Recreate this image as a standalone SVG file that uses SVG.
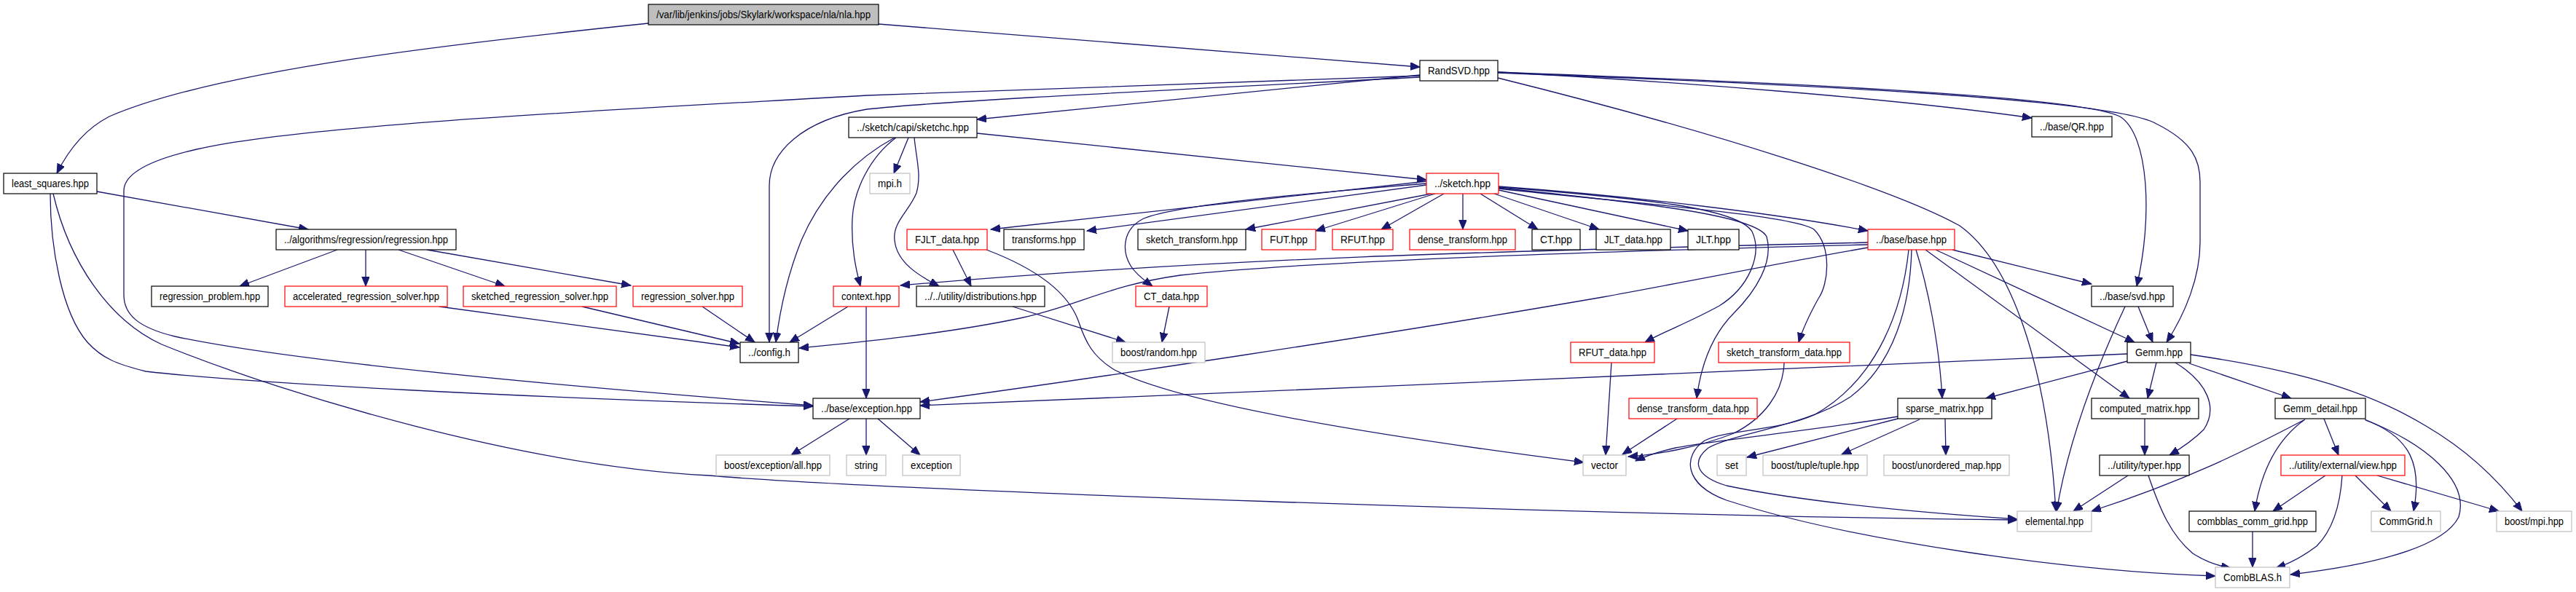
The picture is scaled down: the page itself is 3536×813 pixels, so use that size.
<svg xmlns="http://www.w3.org/2000/svg" width="3536" height="813" viewBox="0 0 3536 813">
<style>
rect{fill:#fff;stroke-width:1.2}
.b{stroke:#000}.r{stroke:#ff0000}.g{stroke:#bfbfbf}.t{fill:#bfbfbf;stroke:#000}
text{font-family:"Liberation Sans",Arial,sans-serif;font-size:14px;text-anchor:middle;fill:#000}
#edges path{fill:none;stroke:#191970;stroke-width:1.3;marker-end:url(#ah)}
</style>
<defs>
<marker id="ah" markerUnits="userSpaceOnUse" markerWidth="14" markerHeight="12" refX="13" refY="5.3" orient="auto"><path d="M0,0 L13,5.3 L0,10.6 Z" fill="#191970" stroke="#191970" stroke-width="1"/></marker>
</defs>
<rect x="0" y="0" width="3536" height="813" style="fill:#fff;stroke:none"/>
<g id="edges">
<path d="M890,32 C640,58 300,95 150,160 C115,178 92,210 78,238"/>
<path d="M1206,33 L1949,92"/>
<path d="M1949,103 L1341,164"/>
<path d="M1949,106 C1600,124 1300,138 1190,150 C1100,165 1056,210 1056,255 L1056,470"/>
<path d="M1949,104 L1190,131 C900,148 420,170 270,205 C195,222 170,242 170,262 L170,405 C170,432 190,450 240,462 C380,492 700,525 1116,557"/>
<path d="M133,263 L423,315"/>
<path d="M69,266 C69,340 85,430 120,470 C140,492 160,500 200,510 C350,527 700,545 1116,558"/>
<path d="M73,266 C95,360 150,440 222,473 C400,545 720,640 973,653 C1200,673 2200,708 2769,714"/>
<path d="M463,343 L329,393"/>
<path d="M502,343 L502,393"/>
<path d="M547,343 L693,393"/>
<path d="M586,343 L866,392"/>
<path d="M603,421 L1015,477"/>
<path d="M799,421 L1015,472"/>
<path d="M964,421 L1036,470"/>
<path d="M1164,421 L1084,470"/>
<path d="M1228,189 C1180,215 1130,260 1100,330 C1080,380 1070,430 1065,470"/>
<path d="M1230,189 C1195,215 1172,260 1170,300 C1168,340 1175,370 1181,393"/>
<path d="M1247,189 L1227,238"/>
<path d="M1255,189 C1258,220 1265,240 1258,265 C1248,290 1225,305 1228,330 C1231,360 1260,378 1289,393"/>
<path d="M1341,183 L1958,247"/>
<path d="M1189,421 L1189,547"/>
<path d="M1390,421 L1545,470"/>
<path d="M1605,421 L1595,470"/>
<path d="M1308,343 L1333,393"/>
<path d="M1354,343 C1420,368 1465,400 1480,440 C1490,470 1500,490 1530,508 C1620,555 1900,600 2174,635"/>
<path d="M1958,252 C1800,265 1620,280 1570,300 C1540,315 1540,345 1552,365 C1560,378 1575,388 1582,393"/>
<path d="M1958,249 L1360,315"/>
<path d="M1958,254 L1492,317"/>
<path d="M1965,266 L1710,315"/>
<path d="M1970,266 L1806,317"/>
<path d="M1982,266 L1896,315"/>
<path d="M2008,266 L2008,315"/>
<path d="M2032,266 L2111,315"/>
<path d="M2051,266 L2195,315"/>
<path d="M2057,261 L2317,317"/>
<path d="M2057,256 C2250,270 2450,295 2564,317"/>
<path d="M2057,257 C2250,272 2385,285 2405,318 C2420,350 2400,395 2360,420 C2320,442 2285,455 2258,470"/>
<path d="M2057,258 C2250,278 2410,295 2425,325 C2435,360 2410,400 2380,430 C2350,460 2335,500 2329,547"/>
<path d="M2057,259 C2250,280 2460,295 2490,315 C2515,340 2510,390 2496,410 C2485,430 2475,450 2469,470"/>
<path d="M2564,333 C2100,344 1700,352 1236,392"/>
<path d="M2564,336 C2200,345 1800,358 1620,378 C1520,392 1480,420 1400,437 C1300,458 1180,470 1097,478"/>
<path d="M2564,340 C2450,360 2300,390 2200,408 C1900,460 1500,520 1263,552"/>
<path d="M2920,486 C2500,505 1800,535 1263,557"/>
<path d="M2680,343 L2871,390"/>
<path d="M2657,343 L2930,470"/>
<path d="M2643,343 L2923,547"/>
<path d="M2630,343 C2645,390 2662,470 2666,547"/>
<path d="M2624,343 C2622,420 2600,500 2540,545 C2480,585 2380,595 2345,615 C2320,635 2330,655 2370,667 C2480,690 2650,705 2769,713"/>
<path d="M2620,343 C2612,420 2580,520 2490,570 C2440,592 2370,590 2340,605 C2310,625 2310,665 2370,687 C2550,745 2850,785 3041,791"/>
<path d="M2605,572 C2500,590 2350,605 2300,615 C2270,622 2255,628 2245,633"/>
<path d="M2449,498 C2448,540 2420,575 2380,595 C2330,615 2270,625 2235,627"/>
<path d="M2302,575 L2227,624"/>
<path d="M2212,498 L2204,625"/>
<path d="M2605,575 L2398,628"/>
<path d="M2635,576 L2528,624"/>
<path d="M2670,575 L2671,625"/>
<path d="M2935,421 L2955,470"/>
<path d="M2917,421 C2880,500 2840,600 2823,702"/>
<path d="M2056,107 C2350,180 2600,260 2690,310 C2760,360 2810,500 2822,702"/>
<path d="M2056,99 C2300,112 2600,135 2789,162"/>
<path d="M2056,99 C2400,112 2850,130 2910,160 C2950,185 2955,300 2933,393"/>
<path d="M2056,100 C2450,115 2900,135 2960,170 C3010,195 3020,220 3020,250 L3020,333 C3020,380 3000,430 2974,470"/>
<path d="M2920,496 L2726,547"/>
<path d="M2960,498 L2948,547"/>
<path d="M2986,498 C3030,525 3045,560 3025,590 C3010,605 2995,615 2978,625"/>
<path d="M3005,499 L3145,547"/>
<path d="M3007,487 C3130,505 3240,530 3330,585 C3390,620 3430,660 3462,702"/>
<path d="M2944,575 L2944,625"/>
<path d="M2921,653 L2846,702"/>
<path d="M2949,653 C2965,700 2980,735 3010,760 C3030,773 3050,778 3062,780"/>
<path d="M3190,575 L3210,625"/>
<path d="M3164,576 C3130,600 3105,640 3095,702"/>
<path d="M3162,577 C3080,620 3000,660 2871,702"/>
<path d="M3247,577 C3310,600 3325,640 3313,702"/>
<path d="M3246,576 C3330,610 3390,660 3375,710 C3350,760 3220,780 3144,789"/>
<path d="M3192,653 L3120,702"/>
<path d="M3215,653 C3212,700 3200,730 3180,750 C3160,765 3140,775 3124,780"/>
<path d="M3233,653 L3282,702"/>
<path d="M3263,653 L3430,702"/>
<path d="M3092,730 L3092,779"/>
<path d="M1166,575 L1086,625"/>
<path d="M1189,575 L1189,625"/>
<path d="M1205,575 L1263,625"/>
</g>
<g id="n0"><rect class="t" x="890" y="6" width="316" height="28"/><text x="1048" y="25" textLength="294" lengthAdjust="spacingAndGlyphs">/var/lib/jenkins/jobs/Skylark/workspace/nla/nla.hpp</text></g>
<g id="n1"><rect class="b" x="5" y="238" width="128" height="28"/><text x="69" y="257" textLength="106" lengthAdjust="spacingAndGlyphs">least_squares.hpp</text></g>
<g id="n2"><rect class="b" x="379" y="315" width="247" height="28"/><text x="502.5" y="334" textLength="225" lengthAdjust="spacingAndGlyphs">../algorithms/regression/regression.hpp</text></g>
<g id="n3"><rect class="b" x="208" y="393" width="160" height="28"/><text x="288" y="412" textLength="138" lengthAdjust="spacingAndGlyphs">regression_problem.hpp</text></g>
<g id="n4"><rect class="r" x="391" y="393" width="223" height="28"/><text x="502.5" y="412" textLength="201" lengthAdjust="spacingAndGlyphs">accelerated_regression_solver.hpp</text></g>
<g id="n5"><rect class="r" x="636" y="393" width="210" height="28"/><text x="741" y="412" textLength="188" lengthAdjust="spacingAndGlyphs">sketched_regression_solver.hpp</text></g>
<g id="n6"><rect class="r" x="869" y="393" width="150" height="28"/><text x="944" y="412" textLength="128" lengthAdjust="spacingAndGlyphs">regression_solver.hpp</text></g>
<g id="n7"><rect class="b" x="1016" y="470" width="80" height="28"/><text x="1056" y="489" textLength="58" lengthAdjust="spacingAndGlyphs">../config.h</text></g>
<g id="n8"><rect class="b" x="1116" y="547" width="147" height="28"/><text x="1189.5" y="566" textLength="125" lengthAdjust="spacingAndGlyphs">../base/exception.hpp</text></g>
<g id="n9"><rect class="g" x="983" y="625" width="156" height="28"/><text x="1061" y="644" textLength="134" lengthAdjust="spacingAndGlyphs">boost/exception/all.hpp</text></g>
<g id="n10"><rect class="g" x="1162" y="625" width="54" height="28"/><text x="1189" y="644" textLength="32" lengthAdjust="spacingAndGlyphs">string</text></g>
<g id="n11"><rect class="g" x="1239" y="625" width="79" height="28"/><text x="1278.5" y="644" textLength="57" lengthAdjust="spacingAndGlyphs">exception</text></g>
<g id="n12"><rect class="b" x="1949" y="83" width="107" height="28"/><text x="2002.5" y="102" textLength="85" lengthAdjust="spacingAndGlyphs">RandSVD.hpp</text></g>
<g id="n13"><rect class="b" x="1165" y="161" width="176" height="28"/><text x="1253" y="180" textLength="154" lengthAdjust="spacingAndGlyphs">../sketch/capi/sketchc.hpp</text></g>
<g id="n14"><rect class="g" x="1194" y="238" width="55" height="28"/><text x="1221.5" y="257" textLength="33" lengthAdjust="spacingAndGlyphs">mpi.h</text></g>
<g id="n15"><rect class="r" x="1144" y="393" width="90" height="28"/><text x="1189" y="412" textLength="68" lengthAdjust="spacingAndGlyphs">context.hpp</text></g>
<g id="n16"><rect class="b" x="1258" y="393" width="176" height="28"/><text x="1346" y="412" textLength="154" lengthAdjust="spacingAndGlyphs">../../utility/distributions.hpp</text></g>
<g id="n17"><rect class="r" x="1958" y="238" width="99" height="28"/><text x="2007.5" y="257" textLength="77" lengthAdjust="spacingAndGlyphs">../sketch.hpp</text></g>
<g id="n18"><rect class="r" x="1245" y="315" width="110" height="28"/><text x="1300" y="334" textLength="88" lengthAdjust="spacingAndGlyphs">FJLT_data.hpp</text></g>
<g id="n19"><rect class="b" x="1378" y="315" width="110" height="28"/><text x="1433" y="334" textLength="88" lengthAdjust="spacingAndGlyphs">transforms.hpp</text></g>
<g id="n20"><rect class="b" x="1562" y="315" width="148" height="28"/><text x="1636" y="334" textLength="126" lengthAdjust="spacingAndGlyphs">sketch_transform.hpp</text></g>
<g id="n21"><rect class="r" x="1732" y="315" width="74" height="28"/><text x="1769" y="334" textLength="52" lengthAdjust="spacingAndGlyphs">FUT.hpp</text></g>
<g id="n22"><rect class="r" x="1829" y="315" width="83" height="28"/><text x="1870.5" y="334" textLength="61" lengthAdjust="spacingAndGlyphs">RFUT.hpp</text></g>
<g id="n23"><rect class="r" x="1935" y="315" width="145" height="28"/><text x="2007.5" y="334" textLength="123" lengthAdjust="spacingAndGlyphs">dense_transform.hpp</text></g>
<g id="n24"><rect class="b" x="2103" y="315" width="66" height="28"/><text x="2136" y="334" textLength="44" lengthAdjust="spacingAndGlyphs">CT.hpp</text></g>
<g id="n25"><rect class="b" x="2191" y="315" width="102" height="28"/><text x="2242" y="334" textLength="80" lengthAdjust="spacingAndGlyphs">JLT_data.hpp</text></g>
<g id="n26"><rect class="b" x="2317" y="315" width="70" height="28"/><text x="2352" y="334" textLength="48" lengthAdjust="spacingAndGlyphs">JLT.hpp</text></g>
<g id="n27"><rect class="r" x="1559" y="393" width="98" height="28"/><text x="1608" y="412" textLength="76" lengthAdjust="spacingAndGlyphs">CT_data.hpp</text></g>
<g id="n28"><rect class="g" x="1527" y="470" width="127" height="28"/><text x="1590.5" y="489" textLength="105" lengthAdjust="spacingAndGlyphs">boost/random.hpp</text></g>
<g id="n29"><rect class="b" x="2789" y="160" width="110" height="28"/><text x="2844" y="179" textLength="88" lengthAdjust="spacingAndGlyphs">../base/QR.hpp</text></g>
<g id="n30"><rect class="r" x="2564" y="315" width="119" height="28"/><text x="2623.5" y="334" textLength="97" lengthAdjust="spacingAndGlyphs">../base/base.hpp</text></g>
<g id="n31"><rect class="b" x="2871" y="393" width="112" height="28"/><text x="2927" y="412" textLength="90" lengthAdjust="spacingAndGlyphs">../base/svd.hpp</text></g>
<g id="n32"><rect class="r" x="2156" y="470" width="115" height="28"/><text x="2213.5" y="489" textLength="93" lengthAdjust="spacingAndGlyphs">RFUT_data.hpp</text></g>
<g id="n33"><rect class="r" x="2359" y="470" width="180" height="28"/><text x="2449" y="489" textLength="158" lengthAdjust="spacingAndGlyphs">sketch_transform_data.hpp</text></g>
<g id="n34"><rect class="r" x="2236" y="547" width="176" height="28"/><text x="2324" y="566" textLength="154" lengthAdjust="spacingAndGlyphs">dense_transform_data.hpp</text></g>
<g id="n35"><rect class="g" x="2173" y="625" width="59" height="28"/><text x="2202.5" y="644" textLength="37" lengthAdjust="spacingAndGlyphs">vector</text></g>
<g id="n36"><rect class="b" x="2920" y="470" width="87" height="28"/><text x="2963.5" y="489" textLength="65" lengthAdjust="spacingAndGlyphs">Gemm.hpp</text></g>
<g id="n37"><rect class="b" x="2605" y="547" width="129" height="28"/><text x="2669.5" y="566" textLength="107" lengthAdjust="spacingAndGlyphs">sparse_matrix.hpp</text></g>
<g id="n38"><rect class="b" x="2871" y="547" width="147" height="28"/><text x="2944.5" y="566" textLength="125" lengthAdjust="spacingAndGlyphs">computed_matrix.hpp</text></g>
<g id="n39"><rect class="b" x="3123" y="547" width="124" height="28"/><text x="3185" y="566" textLength="102" lengthAdjust="spacingAndGlyphs">Gemm_detail.hpp</text></g>
<g id="n40"><rect class="g" x="2357" y="625" width="40" height="28"/><text x="2377" y="644" textLength="18" lengthAdjust="spacingAndGlyphs">set</text></g>
<g id="n41"><rect class="g" x="2420" y="625" width="143" height="28"/><text x="2491.5" y="644" textLength="121" lengthAdjust="spacingAndGlyphs">boost/tuple/tuple.hpp</text></g>
<g id="n42"><rect class="g" x="2586" y="625" width="172" height="28"/><text x="2672" y="644" textLength="150" lengthAdjust="spacingAndGlyphs">boost/unordered_map.hpp</text></g>
<g id="n43"><rect class="b" x="2882" y="625" width="123" height="28"/><text x="2943.5" y="644" textLength="101" lengthAdjust="spacingAndGlyphs">../utility/typer.hpp</text></g>
<g id="n44"><rect class="r" x="3131" y="625" width="170" height="28"/><text x="3216" y="644" textLength="148" lengthAdjust="spacingAndGlyphs">../utility/external/view.hpp</text></g>
<g id="n45"><rect class="g" x="2769" y="702" width="102" height="28"/><text x="2820" y="721" textLength="80" lengthAdjust="spacingAndGlyphs">elemental.hpp</text></g>
<g id="n46"><rect class="b" x="3005" y="702" width="174" height="28"/><text x="3092" y="721" textLength="152" lengthAdjust="spacingAndGlyphs">combblas_comm_grid.hpp</text></g>
<g id="n47"><rect class="g" x="3255" y="702" width="95" height="28"/><text x="3302.5" y="721" textLength="73" lengthAdjust="spacingAndGlyphs">CommGrid.h</text></g>
<g id="n48"><rect class="g" x="3427" y="702" width="103" height="28"/><text x="3478.5" y="721" textLength="81" lengthAdjust="spacingAndGlyphs">boost/mpi.hpp</text></g>
<g id="n49"><rect class="g" x="3041" y="779" width="102" height="28"/><text x="3092" y="798" textLength="80" lengthAdjust="spacingAndGlyphs">CombBLAS.h</text></g>
</svg>
